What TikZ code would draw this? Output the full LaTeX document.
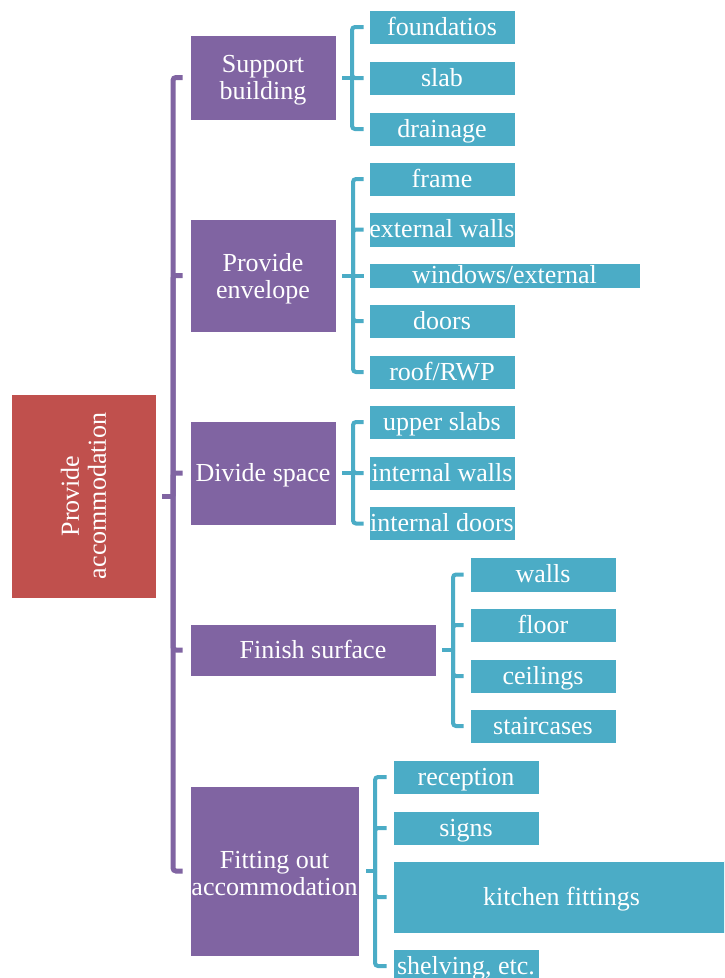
\documentclass[tikz,border=0pt]{standalone}
\usepackage{fontspec}
\setmainfont{Liberation Serif}
\definecolor{cred}{HTML}{C0504D}
\definecolor{cpurple}{HTML}{8064A2}
\definecolor{cteal}{HTML}{4BACC6}
\newcommand\lowln[1]{\raisebox{-3pt}[\height][\depth]{#1}}
\tikzset{
  box/.style={rectangle, inner sep=0pt, text=white, align=center,
    font=\fontsize{26}{27}\selectfont, draw=white, line width=0.6pt},
  oneline/.style={text height=20pt, text depth=4pt},
  rootbox/.style={box, fill=cred},
  pbox/.style={box, fill=cpurple},
  tbox/.style={box, fill=cteal, oneline},
  pconn/.style={draw=cpurple, line width=5pt, rounded corners=3pt},
  tconn/.style={draw=cteal, line width=4pt, rounded corners=3pt},
}
\begin{document}
\begin{tikzpicture}[x=1pt, y=-1pt]
\useasboundingbox (0,0) rectangle (724,978);
\clip (0,0) rectangle (724,978);

% root
\node[rootbox, rotate=90, minimum width=204, minimum height=145] (root) at (83.5,496) {Provide\\accommodation};

% level 1
\node[pbox, minimum width=146, minimum height=85] (sb) at (263,77.5) {\lowln{Support}\\\lowln{building}};
\node[pbox, minimum width=146, minimum height=113] (pe) at (263,275.5) {\lowln{Provide}\\\lowln{envelope}};
\node[pbox, oneline, minimum width=146, minimum height=104] (ds) at (263,473) {Divide space};
\node[pbox, oneline, minimum width=246, minimum height=52] (fs) at (313,650) {Finish surface};
\node[pbox, minimum width=169, minimum height=170] (fo) at (274.5,871) {\lowln{Fitting out}\\\lowln{accommodation}};

% level 2: support building
\node[tbox, minimum width=146, minimum height=34] (c11) at (442,27) {foundatios};
\node[tbox, minimum width=146, minimum height=34] (c12) at (442,78) {slab};
\node[tbox, minimum width=146, minimum height=34] (c13) at (442,129) {drainage};
% provide envelope
\node[tbox, minimum width=146, minimum height=34] (c21) at (442,179) {frame};
\node[tbox, minimum width=146, minimum height=35] (c22) at (442,229.5) {external walls};
\node[tbox, minimum width=271, minimum height=25] (c23) at (504.5,275.5) {windows/external};
\node[tbox, minimum width=146, minimum height=34] (c24) at (442,321) {doors};
\node[tbox, minimum width=146, minimum height=34] (c25) at (442,372) {roof/RWP};
% divide space
\node[tbox, minimum width=146, minimum height=34] (c31) at (442,422) {upper slabs};
\node[tbox, minimum width=146, minimum height=34] (c32) at (442,473) {internal walls};
\node[tbox, minimum width=146, minimum height=34] (c33) at (442,523.5) {internal doors};
% finish surface
\node[tbox, minimum width=146, minimum height=35] (c41) at (543,574.5) {walls};
\node[tbox, minimum width=146, minimum height=34] (c42) at (543,625) {floor};
\node[tbox, minimum width=146, minimum height=34] (c43) at (543,676) {ceilings};
\node[tbox, minimum width=146, minimum height=34] (c44) at (543,726) {staircases};
% fitting out
\node[tbox, minimum width=146, minimum height=34] (c51) at (466,777) {reception};
\node[tbox, minimum width=146, minimum height=34] (c52) at (466,828) {signs};
\node[tbox, minimum width=337, minimum height=72] (c53) at (561.5,897) {kitchen fittings};
\node[tbox, minimum width=146, minimum height=34] (c54) at (466,966) {shelving, etc.};

% junction coordinates
\coordinate (rj) at (173,496);
\coordinate (j1) at (352,77.5);
\coordinate (j2) at (353,275.5);
\coordinate (j3) at (353,473);
\coordinate (j4) at (453,650);
\coordinate (j5) at (375,871);

% root connectors
\draw[pconn] ([xshift=6pt]root.south) -- (rj);
\foreach \c in {sb,pe,ds,fs,fo}
  \draw[pconn, shorten >=7pt] (rj) |- (\c.west);

% teal brackets
\draw[tconn] ([xshift=6pt]sb.east) -- (j1);
\foreach \c in {c11,c12,c13}
  \draw[tconn, shorten >=5pt] (j1) |- (\c.west);
\draw[tconn] ([xshift=6pt]pe.east) -- (j2);
\foreach \c in {c21,c22,c24,c25}
  \draw[tconn, shorten >=5pt] (j2) |- (\c.west);
\draw[tconn, shorten >=5pt] (j2) -- (c23.west);
\draw[tconn] ([xshift=6pt]ds.east) -- (j3);
\foreach \c in {c31,c32,c33}
  \draw[tconn, shorten >=5pt] (j3) |- (\c.west);
\draw[tconn] ([xshift=6pt]fs.east) -- (j4);
\foreach \c in {c41,c42,c43,c44}
  \draw[tconn, shorten >=6pt] (j4) |- (\c.west);
\draw[tconn] ([xshift=7pt]fo.east) -- (j5);
\foreach \c in {c51,c52,c53,c54}
  \draw[tconn, shorten >=6pt] (j5) |- (\c.west);
\end{tikzpicture}
\end{document}
